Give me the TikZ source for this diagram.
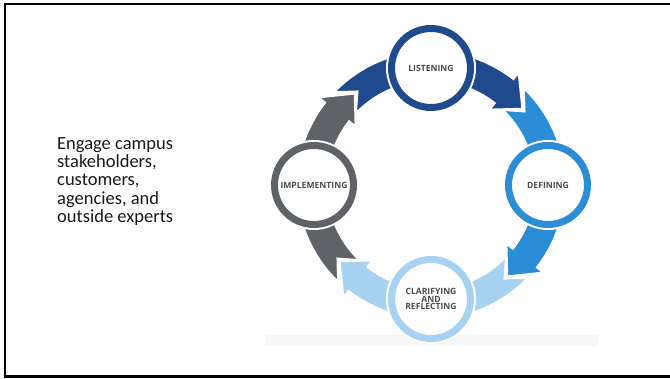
\documentclass[tikz,border=0pt]{standalone}
\usepackage{fontspec}
\setmainfont{Carlito}
\newfontfamily\lblfont{Open Sans}
\definecolor{dkblue}{HTML}{1F4B8C}
\definecolor{mdblue}{HTML}{2B8DD6}
\definecolor{ltblue}{HTML}{A7D2F2}
\definecolor{cyclegray}{HTML}{5F6266}
\definecolor{lbltext}{HTML}{4C4C4C}
\newcommand\cycarrow[4]{%
  \fill[#1, draw=white, line width=1.5pt, line join=miter]
    (#2:134) arc[start angle=#2, end angle=#3, radius=134]
    -- (#3:142) -- ({#3-12}:119) -- (#3:96) -- (#3:104)
    arc[start angle=#3, end angle=#2, radius=104]
    -- (#4:119) -- cycle;}
\begin{document}
\begin{tikzpicture}[x=1pt,y=1pt,
  ringnode/.style={circle, draw=#1, line width=7pt, fill=white,
    minimum size=79pt, inner sep=0pt,
    preaction={draw=white, line width=11pt},
    font=\lblfont\bfseries\fontsize{8.6}{7.8}\selectfont, text=lbltext, align=center},
  bodytext/.style={font=\fontsize{18.5}{18.3}\selectfont, align=left, inner sep=0pt, text=black!90}]
\useasboundingbox (0,0) rectangle (670,378);
\fill[white] (0,0) rectangle (670,378);
% faint strip at the bottom of the pasted picture
\fill[black!3] (265,32) rectangle (598,43);
\begin{scope}[shift={(431,193)}]
  \cycarrow{dkblue}{136}{52}{128}
  \cycarrow{mdblue}{46}{-38}{38}
  \cycarrow{ltblue}{-44}{-128}{-52}
  \cycarrow{cyclegray}{-134}{-218}{-142}
  \node[ringnode=dkblue] (listen) at (90:117) {LISTENING};
  \node[ringnode=mdblue] (define) at (0:117) {DEFINING};
  \node[ringnode=ltblue] (clarify) at (-90:114) {CLARIFYING\\AND\\REFLECTING};
  \node[ringnode=cyclegray] (implement) at (180:117) {IMPLEMENTING};
\end{scope}
\node[bodytext, anchor=west] (txt) at (57,196.5)
  {Engage campus\\stakeholders,\\customers,\\agencies, and\\outside experts};
% slide frame
\draw[black, line width=2.4pt] (690,374) -- (5,374) -- (5,1.5) -- (690,1.5);
\end{tikzpicture}
\end{document}
